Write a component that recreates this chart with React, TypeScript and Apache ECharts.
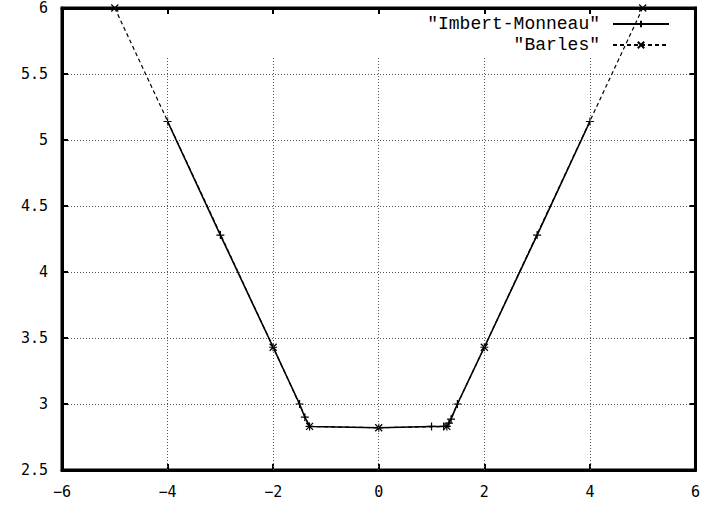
import React, { useEffect, useRef } from "react";
import * as echarts from "echarts";

const imbX = [-4, -3, -2, -1.5, -1.4, -1.31, 0, 1, 1.23, 1.29, 1.33, 1.37, 1.49, 2, 3, 4];
const imbY = [5.14, 4.28, 3.43, 3.0, 2.9, 2.83, 2.82, 2.83, 2.83, 2.83, 2.855, 2.885, 3.0, 3.43, 4.28, 5.14];
const barX = [-5, -2, -1.31, 0, 1.29, 2, 5];
const barY = [6.0, 3.43, 2.83, 2.82, 2.83, 3.43, 6.0];
const xTicks = [-4, -2, 0, 2, 4];
const gridTop = 5.63;
const names = ['"Imbert-Monneau"', '"Barles"'];

const plus = "path://M0,5L10,5M5,0L5,10";
const cross = "path://M0,0L10,10M10,0L0,10";

const fmt = (v: number) => String(v).replace("-", "\u2212");

export default function App() {
  const ref = useRef<HTMLDivElement>(null);
  useEffect(() => {
    document.body.style.margin = "0";
    const chart = echarts.init(ref.current!, null, { renderer: "svg" });
    const axisFont = { fontFamily: "DejaVu Sans Mono", fontSize: 15, color: "#000", formatter: fmt };
    const common = {
      type: "value" as const,
      axisLine: { show: true, onZero: false, lineStyle: { color: "#000", width: 3 } },
      axisTick: { show: true, inside: true, length: 6, lineStyle: { color: "#000", width: 2 } },
    };
    const legendText = {
      fontFamily: "Liberation Mono", fontSize: 18, lineHeight: 18, color: "#000", padding: [0, 8, 0, 0],
    };
    chart.setOption({
      animation: false,
      backgroundColor: "#fff",
      grid: { left: 62, right: 7, top: 8, bottom: 35, show: true, borderColor: "#000", borderWidth: 3 },
      legend: [
        {
          data: [names[0]], right: 33, top: 15, padding: 0, align: "right", itemWidth: 56, itemHeight: 8,
          textStyle: legendText, selectedMode: false,
        },
        {
          data: [names[1]], right: 33, top: 36, padding: 0, align: "right", itemWidth: 56, itemHeight: 8,
          textStyle: legendText, selectedMode: false,
        },
      ],
      xAxis: [
        {
          ...common, min: -6, max: 6, interval: 2, position: "bottom",
          axisLabel: { ...axisFont, margin: 14 },
          splitLine: { show: false },
        },
        {
          ...common, min: -6, max: 6, interval: 2, position: "top",
          axisLabel: { show: false }, splitLine: { show: false },
        },
      ],
      yAxis: [
        {
          ...common, min: 2.5, max: 6, interval: 0.5, position: "left",
          axisLabel: { ...axisFont, margin: 14 },
          splitLine: { show: true, lineStyle: { color: "#555", width: 1, type: [1, 2] } },
        },
        {
          ...common, min: 2.5, max: 6, interval: 0.5, position: "right",
          axisLabel: { show: false }, splitLine: { show: false },
        },
      ],
      series: [
        {
          name: "grid",
          type: "line",
          data: [],
          silent: true,
          markLine: {
            silent: true,
            symbol: "none",
            label: { show: false },
            lineStyle: { color: "#555", width: 1, type: [1, 2] },
            data: xTicks.map((x) => [{ coord: [x, 2.5] }, { coord: [x, gridTop] }]),
          },
        },
        {
          name: names[0],
          type: "line",
          data: imbX.map((x, i) => [x, imbY[i]]),
          symbol: plus,
          symbolSize: 8,
          lineStyle: { color: "#000", width: 1.6, type: "solid" },
          itemStyle: { color: "#000", borderColor: "#000", borderWidth: 1.2 },
          z: 3,
        },
        {
          name: names[1],
          type: "line",
          data: barX.map((x, i) => [x, barY[i]]),
          symbol: cross,
          symbolSize: 7,
          clip: false,
          lineStyle: { color: "#000", width: 1.2, type: [4, 3] },
          itemStyle: { color: "#000", borderColor: "#000", borderWidth: 1.2 },
          z: 2,
        },
      ],
    });
    return () => chart.dispose();
  }, []);
  return <div ref={ref} style={{ width: 703, height: 505 }} />;
}
